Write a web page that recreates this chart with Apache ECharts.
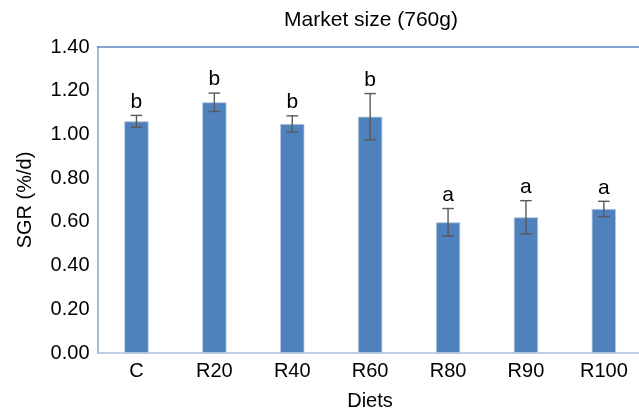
<!DOCTYPE html>
<html>
<head>
<meta charset="utf-8">
<script src="https://cdn.jsdelivr.net/npm/echarts@6/dist/echarts.min.js"></script>
<style>
  html, body { margin: 0; padding: 0; background: #fff; }
  #chart { width: 639px; height: 410px; }
</style>
</head>
<body>
<div id="chart"></div>
<script>
// Specific growth rate per diet, with SD and significance groups
const diets = ['C', 'R20', 'R40', 'R60', 'R80', 'R90', 'R100'];
const sgr = [1.06, 1.147, 1.048, 1.081, 0.598, 0.621, 0.659];
const sgrSd = [0.027, 0.042, 0.037, 0.106, 0.063, 0.076, 0.035];
const groups = ['b', 'b', 'b', 'b', 'a', 'a', 'a'];

const FONT = '"Liberation Sans", Arial, Helvetica, sans-serif';

const chart = echarts.init(document.getElementById('chart'), null, { renderer: 'canvas' });

const errData = sgr.map((v, i) => [i, v - sgrSd[i], v + sgrSd[i]]);

// The plot area runs past the right edge, leaving room for one more (empty) slot
const SLOTS = diets.length + 1;
const SLOT_W = 77.9;

chart.setOption({
  animation: false,
  backgroundColor: '#ffffff',
  title: {
    text: 'Market size (760g)',
    left: 366,
    top: 5,
    textAlign: 'center',
    textStyle: { fontFamily: FONT, fontSize: 21, fontWeight: 'normal', color: '#000' }
  },
  grid: {
    left: 97.5, top: 47, width: SLOTS * SLOT_W, height: 306,
    outerBoundsMode: 'none', containLabel: false
  },
  xAxis: [{
    type: 'category',
    data: diets,
    max: diets.length,
    boundaryGap: true,
    axisLine: { show: true, lineStyle: { color: '#a9bedf', width: 1.5 } },
    axisTick: { show: false },
    axisLabel: {
      fontFamily: FONT, fontSize: 20, color: '#000', margin: 8,
      interval: 0,
      formatter: v => (v === undefined || v === null || v === 'undefined') ? '' : v
    },
    name: 'Diets',
    nameLocation: 'middle',
    nameGap: 38,
    nameTextStyle: { fontFamily: FONT, fontSize: 20, color: '#000', padding: [0, 2 * (97.5 + SLOTS * SLOT_W / 2 - 370), 0, 0] }
  }, {
    type: 'category',
    position: 'top',
    data: diets,
    max: diets.length,
    axisLine: { show: true, lineStyle: { color: '#5a87c5', width: 1.5 } },
    axisTick: { show: false },
    axisLabel: { show: false }
  }],
  yAxis: {
    type: 'value',
    min: 0,
    max: 1.4,
    interval: 0.2,
    splitLine: { show: false },
    axisLine: { show: true, lineStyle: { color: '#86a3d1', width: 1.5 } },
    axisTick: { show: false },
    axisLabel: {
      fontFamily: FONT, fontSize: 20, color: '#000', margin: 8,
      formatter: v => v.toFixed(2)
    },
    name: 'SGR (%/d)',
    nameLocation: 'middle',
    nameGap: 62,
    nameRotate: 90,
    nameTextStyle: { fontFamily: FONT, fontSize: 20, color: '#000' }
  },
  series: [{
    type: 'bar',
    data: sgr,
    barWidth: 24.3,
    itemStyle: { color: '#4f81bd', borderColor: '#b9cde5', borderWidth: 0.8 }
  }, {
    type: 'custom',
    data: errData,
    z: 5,
    renderItem: (params, api) => {
      const i = api.value(0);
      const lo = api.coord([i, api.value(1)]);
      const hi = api.coord([i, api.value(2)]);
      const half = 5.8;
      const style = { stroke: '#595959', lineWidth: 1.4 };
      return {
        type: 'group',
        children: [
          { type: 'line', shape: { x1: hi[0], y1: hi[1], x2: lo[0], y2: lo[1] }, style },
          { type: 'line', shape: { x1: hi[0] - half, y1: hi[1], x2: hi[0] + half, y2: hi[1] }, style },
          { type: 'line', shape: { x1: lo[0] - half, y1: lo[1], x2: lo[0] + half, y2: lo[1] }, style },
          {
            type: 'text',
            x: hi[0], y: hi[1] - 3,
            style: {
              text: groups[params.dataIndex],
              fill: '#000',
              font: '21px ' + FONT,
              align: 'center',
              verticalAlign: 'bottom'
            }
          }
        ]
      };
    }
  }]
});
</script>
</body>
</html>
